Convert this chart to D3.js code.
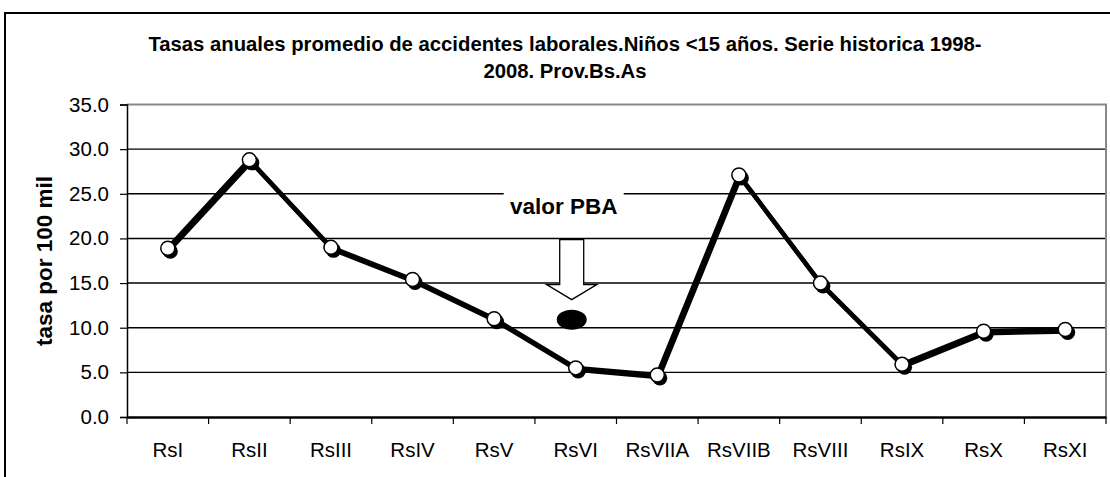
<!DOCTYPE html>
<html>
<head>
<meta charset="utf-8">
<script src="https://cdn.jsdelivr.net/npm/d3@7"></script>
<style>
  body { margin: 0; background: #fff; }
  svg { display: block; font-family: "Liberation Sans", Arial, sans-serif; }
</style>
</head>
<body>
<svg width="1110" height="477"></svg>
<script>
// data
const regions = ["RsI", "RsII", "RsIII", "RsIV", "RsV", "RsVI", "RsVIIA", "RsVIIB", "RsVIII", "RsIX", "RsX", "RsXI"]
const tasas = [18.9, 28.8, 19.0, 15.4, 11.0, 5.5, 4.7, 27.1, 15.0, 5.9, 9.6, 9.8]
const yTicks = [0, 5, 10, 15, 20, 25, 30, 35]
const pbaRegion = "RsVI"
const pbaValue = 10.9
const titleLines = ["Tasas anuales promedio de accidentes laborales.Niños <15 años. Serie historica 1998-", "2008. Prov.Bs.As"]

const svg = d3.select("svg")
const plotLeft = 127, plotRight = 1106, plotTop = 104.5, plotBottom = 417

// outer frame
svg.append("rect")
    .attr("x", 5).attr("y", 13)
    .attr("width", 1200).attr("height", 600)
    .attr("fill", "none").attr("stroke", "#000").attr("stroke-width", 2)

const x = d3.scaleBand().domain(regions).range([plotLeft, plotRight])
const y = d3.scaleLinear().domain([0, 35]).range([plotBottom, plotTop])

// gridlines
svg.append("g").selectAll("line")
    .data(yTicks.filter(d => d > 0 && d < 35)).enter()
    .append("line")
    .attr("x1", plotLeft).attr("x2", plotRight)
    .attr("y1", d => y(d)).attr("y2", d => y(d))
    .attr("stroke", "#000").attr("stroke-width", 1.4)

// plot area border (top + right gray)
svg.append("path")
    .attr("d", `M${plotLeft},${plotTop}H${plotRight}V${plotBottom}`)
    .attr("fill", "none").attr("stroke", "#888").attr("stroke-width", 2)

// y axis
const yAxis = svg.append("g")
    .attr("transform", `translate(${plotLeft},0)`)
    .call(d3.axisLeft(y).tickValues(yTicks).tickFormat(d3.format(".1f")).tickSizeOuter(0).tickSize(7).tickPadding(11))
yAxis.select(".domain").attr("stroke", "#000").attr("stroke-width", 1.5)
yAxis.selectAll(".tick line").attr("stroke", "#000").attr("stroke-width", 1.2)
yAxis.selectAll("text").attr("font-size", 20.5).attr("fill", "#000").attr("font-family", "Liberation Sans, Arial, sans-serif")

// x axis
const xAxis = svg.append("g")
    .attr("transform", `translate(0,${plotBottom})`)
    .call(d3.axisBottom(x).tickSize(0).tickPadding(25))
xAxis.select(".domain").attr("stroke", "#000").attr("stroke-width", 2.5)
xAxis.selectAll("text").attr("font-size", 20.5).attr("fill", "#000").attr("font-family", "Liberation Sans, Arial, sans-serif")
// category boundary ticks
svg.append("g").selectAll("line")
    .data(regions.concat(["end"])).enter()
    .append("line")
    .attr("x1", (d, i) => plotLeft + i * x.bandwidth())
    .attr("x2", (d, i) => plotLeft + i * x.bandwidth())
    .attr("y1", plotBottom).attr("y2", plotBottom + 7)
    .attr("stroke", "#000").attr("stroke-width", 1.2)

// y title
svg.append("text")
    .attr("transform", "translate(52,261) rotate(-90)")
    .attr("text-anchor", "middle")
    .attr("font-size", 22.5).attr("font-weight", "bold")
    .text("tasa por 100 mil")

// title
svg.append("g").selectAll("text")
    .data(titleLines).enter()
    .append("text")
    .attr("x", 565).attr("y", (d, i) => 51 + i * 27)
    .attr("text-anchor", "middle")
    .attr("font-size", 20.3).attr("font-weight", "bold")
    .text(d => d)

// line + shadow
const pts = regions.map((r, i) => ({ r: r, v: tasas[i] }))
const line = d3.line().x(d => x(d.r) + x.bandwidth() / 2).y(d => y(d.v))
svg.append("path")
    .datum(pts)
    .attr("d", line)
    .attr("transform", "translate(1.5,2)")
    .attr("fill", "none").attr("stroke", "#000").attr("stroke-width", 4.5)
svg.append("path")
    .datum(pts)
    .attr("d", line)
    .attr("fill", "none").attr("stroke", "#000").attr("stroke-width", 4.5)
    .attr("stroke-linejoin", "round")

// markers with shadow
svg.append("g").selectAll("circle")
    .data(pts).enter()
    .append("circle")
    .attr("cx", d => x(d.r) + x.bandwidth() / 2 + 2.5)
    .attr("cy", d => y(d.v) + 3)
    .attr("r", 7.5).attr("fill", "#000")
svg.append("g").selectAll("circle")
    .data(pts).enter()
    .append("circle")
    .attr("cx", d => x(d.r) + x.bandwidth() / 2)
    .attr("cy", d => y(d.v))
    .attr("r", 7).attr("fill", "#fff").attr("stroke", "#000").attr("stroke-width", 1.5)

// PBA value
const px = x(pbaRegion) + x.bandwidth() / 2 - 4
const py = y(pbaValue)
svg.append("ellipse")
    .attr("cx", px).attr("cy", py)
    .attr("rx", 15).attr("ry", 10).attr("fill", "#000")

// block arrow pointing down
const tipY = py - 20
svg.append("path")
    .attr("d", `M${px - 12},${tipY - 60}H${px + 12}V${tipY - 15}H${px + 25}L${px},${tipY}L${px - 25},${tipY - 15}H${px - 12}Z`)
    .attr("fill", "#fff").attr("stroke", "#000").attr("stroke-width", 1.3)

svg.append("rect")
    .attr("x", px - 68).attr("y", 186).attr("width", 120).attr("height", 32)
    .attr("fill", "#fff")
svg.append("text")
    .attr("x", px - 8).attr("y", 214)
    .attr("text-anchor", "middle")
    .attr("font-size", 22.5).attr("font-weight", "bold")
    .text("valor PBA")
</script>
</body>
</html>
